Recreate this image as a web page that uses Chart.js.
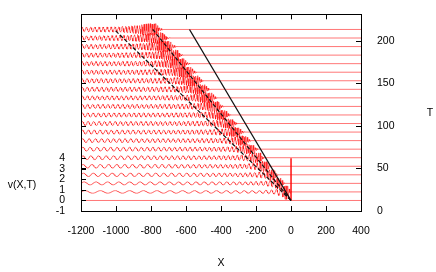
<!DOCTYPE html>
<html>
<head>
<meta charset="utf-8">
<script src="https://cdn.jsdelivr.net/npm/chart.js@4.4.1/dist/chart.umd.min.js"></script>
<style>
  body { margin: 0; background: #fff; }
</style>
</head>
<body>
<canvas id="waveChart" width="436" height="272"></canvas>
<script>
// Waterfall of v(X,T): one red trace per time T, shifted up by T
const traceT = [0, 10, 20, 30, 40, 50, 60, 70, 80, 90, 100, 110, 120, 130, 140, 150, 160, 170, 180, 190, 200];
// X where the oscillations stop (front of the packet), read per trace
const frontX = [0, -10, -50, -88, -128, -168, -207, -247, -286, -326, -365, -405, -444, -484, -523, -563, -602, -642, -681, -721, -760];
// width of the dense band behind the front
const bandWidth = [0, 37, 46, 53, 58, 63, 67, 70, 74, 77, 79, 82, 84, 87, 89, 91, 93, 95, 97, 98, 100];
// amplitude far behind the front and inside the band
const bgAmp = [0, 0.12, 0.14, 0.16, 0.17, 0.18, 0.18, 0.18, 0.19, 0.19, 0.19, 0.19, 0.19, 0.2, 0.2, 0.2, 0.2, 0.2, 0.2, 0.2, 0.2];
const bandAmp = [0, 0.7, 0.55, 0.5, 0.48, 0.46, 0.46, 0.46, 0.46, 0.46, 0.46, 0.48, 0.48, 0.48, 0.5, 0.5, 0.5, 0.52, 0.52, 0.54, 0.56];
// local wavelength (X units) against X/T
const periodS = [-120, -60, -30, -20, -15, -10, -6, -5, -4.6, -4.3, -4.0, -3.8];
const periodLen = [90, 70, 50, 42, 34, 29, 25, 22, 17, 13, 11, 10];
// envelope shape: distance behind the front (in band widths) -> weight
const envD = [-0.3, 0, 0.12, 0.7, 1.0, 2.2, 4.5];
const envW = [0, 0.4, 1, 1, 0.6, 0.15, 0];
// initial pulse on the T = 0 trace
const pulseX = 0;
const pulseV = 4;
// black reference lines from the origin, X reached at T = 200
const rayTopX = [-580, -790, -1010];
const rayDash = [[], [4, 2], [4, 2]];

const xTicks = [-1200, -1000, -800, -600, -400, -200, 0, 200, 400];
const vTicks = [-1, 0, 1, 2, 3, 4];
const tTicks = [0, 50, 100, 150, 200];

const V_PER_T = 0.0812; // vertical spacing of the traces in v units
const FONT = { family: "'Liberation Sans', Arial, sans-serif", size: 10.5 };

function interp(xs, ys, x) {
  if (x <= xs[0]) return ys[0];
  for (let i = 1; i < xs.length; i++) {
    if (x <= xs[i]) {
      const f = (x - xs[i - 1]) / (xs[i] - xs[i - 1]);
      return ys[i - 1] + f * (ys[i] - ys[i - 1]);
    }
  }
  return ys[ys.length - 1];
}

function buildTrace(i) {
  const T = traceT[i];
  const off = T * V_PER_T;
  if (T === 0) {
    return [
      { x: -1200, y: 0 }, { x: pulseX - 0.5, y: 0 }, { x: pulseX, y: pulseV },
      { x: pulseX + 0.5, y: 0 }, { x: 400, y: 0 },
    ];
  }
  const pts = [];
  const step = 2;
  const end = frontX[i] + 0.3 * bandWidth[i];
  let phase = 0;
  for (let X = -1200; X <= end; X += step) {
    const d = (frontX[i] - X) / bandWidth[i];
    const w = interp(envD, envW, d);
    const a = d < 0 ? w * bandAmp[i] : bgAmp[i] + (bandAmp[i] - bgAmp[i]) * w;
    pts.push({ x: X, y: off + a * Math.sin(phase) });
    phase += (2 * Math.PI * step) / interp(periodS, periodLen, X / T);
  }
  pts.push({ x: end, y: off });
  pts.push({ x: 400, y: off });
  return pts;
}

const datasets = [];
rayTopX.forEach((x, k) => {
  datasets.push({
    data: [{ x: 0, y: 0 }, { x: x, y: 200 * V_PER_T }],
    borderColor: "#111",
    borderWidth: k === 0 ? 1.3 : 1.2,
    borderDash: rayDash[k],
    pointRadius: 0,
    order: 0,
  });
});
traceT.forEach((t, i) => {
  datasets.push({
    data: buildTrace(i),
    borderColor: "rgba(255, 0, 0, 0.6)",
    borderWidth: 0.9,
    pointRadius: 0,
    order: 1,
  });
});

// gnuplot-like frame: border, inward ticks and axis titles
const framePlugin = {
  id: "frame",
  afterDraw(chart) {
    const { ctx, chartArea: a, scales } = chart;
    ctx.save();
    ctx.strokeStyle = "#000";
    ctx.lineWidth = 1;
    ctx.strokeRect(Math.round(a.left) + 0.5, Math.round(a.top) + 0.5,
      Math.round(a.right - a.left), Math.round(a.bottom - a.top));
    ctx.beginPath();
    xTicks.forEach((v) => {
      const px = Math.round(scales.x.getPixelForValue(v)) + 0.5;
      ctx.moveTo(px, a.bottom); ctx.lineTo(px, a.bottom - 5);
      ctx.moveTo(px, a.top); ctx.lineTo(px, a.top + 5);
    });
    tTicks.forEach((v) => {
      const py = Math.round(scales.y2.getPixelForValue(v)) + 0.5;
      ctx.moveTo(a.right, py); ctx.lineTo(a.right - 5, py);
      ctx.moveTo(a.left, py); ctx.lineTo(a.left + 5, py);
    });
    vTicks.forEach((v) => {
      const py = Math.round(scales.y.getPixelForValue(v)) + 0.5;
      ctx.moveTo(a.left, py); ctx.lineTo(a.left + 5, py);
    });
    ctx.stroke();

    ctx.fillStyle = "#000";
    ctx.font = "10.5px 'Liberation Sans', Arial, sans-serif";
    ctx.textAlign = "center";
    ctx.textBaseline = "middle";
    ctx.fillText("X", (a.left + a.right) / 2, 263);
    ctx.fillText("T", 430, (a.top + a.bottom) / 2);
    ctx.fillText("v(X,T)", 22, 185);
    ctx.restore();
  },
};

new Chart(document.getElementById("waveChart"), {
  type: "line",
  data: { datasets: datasets },
  options: {
    responsive: false,
    animation: false,
    events: [],
    layout: { padding: { top: 5.5, left: 0, right: 0, bottom: 0 } },
    plugins: { legend: { display: false }, tooltip: { enabled: false } },
    elements: { line: { tension: 0 } },
    scales: {
      x: {
        type: "linear",
        min: -1200,
        max: 400,
        afterBuildTicks: (s) => { s.ticks = xTicks.map((v) => ({ value: v })); },
        afterFit: (s) => { s.height = 61; },
        ticks: { color: "#000", font: FONT, padding: 6, maxRotation: 0, autoSkip: false, callback: (v) => String(v) },
        grid: { display: false },
        border: { display: false },
      },
      y: {
        type: "linear",
        position: "left",
        min: -1,
        max: 17.68,
        afterBuildTicks: (s) => { s.ticks = vTicks.map((v) => ({ value: v })); },
        afterFit: (s) => { s.width = 81; },
        ticks: { color: "#000", font: FONT, padding: 8, autoSkip: false, callback: (v) => String(v) },
        grid: { display: false },
        border: { display: false },
      },
      y2: {
        type: "linear",
        position: "right",
        min: 0,
        max: 230.9,
        afterBuildTicks: (s) => { s.ticks = tTicks.map((v) => ({ value: v })); },
        afterFit: (s) => { s.width = 75; },
        ticks: { color: "#000", font: FONT, padding: 8, autoSkip: false, callback: (v) => String(v) },
        grid: { display: false },
        border: { display: false },
      },
    },
  },
  plugins: [framePlugin],
});
</script>
</body>
</html>
